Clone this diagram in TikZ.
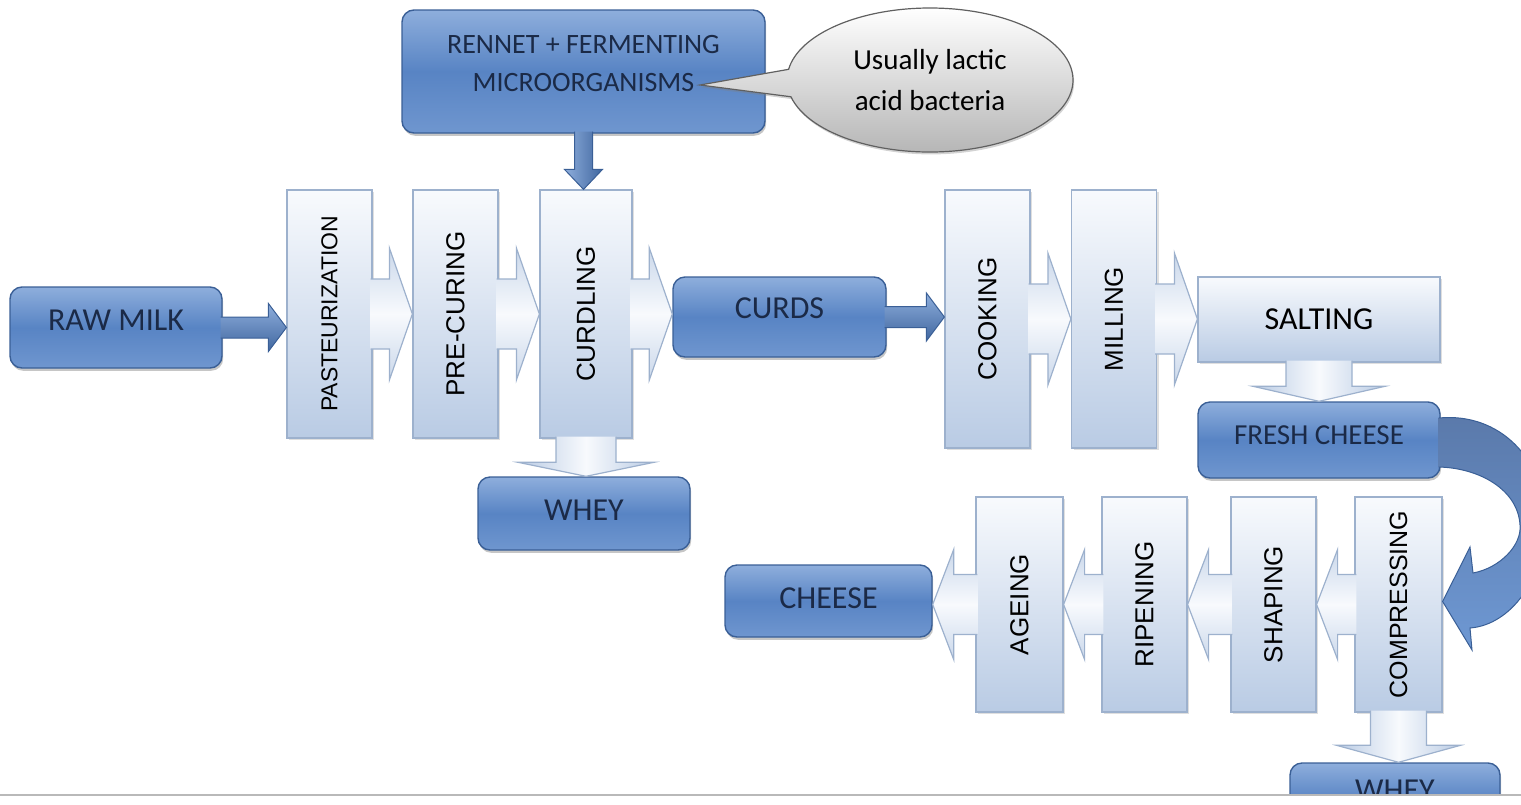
\documentclass[tikz,border=0pt]{standalone}
\usepackage{fontspec}
\setmainfont{Carlito}
\newfontfamily\stepfont{Liberation Sans}
\usepackage{graphicx}
\usetikzlibrary{calc,shapes.callouts,shadows}

\definecolor{darktop}{HTML}{8EAEDC}
\definecolor{darkmid}{HTML}{5884C4}
\definecolor{darkbot}{HTML}{6F96CF}
\definecolor{darkline}{HTML}{3A5F96}
\definecolor{darktext}{HTML}{1B2A47}
\definecolor{steptop}{HTML}{F8FAFD}
\definecolor{stepbot}{HTML}{B9CBE4}
\definecolor{stepline}{HTML}{9DB1CD}
\definecolor{bendtop}{HTML}{5A79AA}
\definecolor{bendbot}{HTML}{6E98D3}

\tikzset{
  darkbox/.style={rectangle, rounded corners=6pt, draw=darkline, line width=0.7pt,
    top color=darktop, bottom color=darkbot, middle color=darkmid, text=darktext,
    font=\fontsize{16}{19}\selectfont, inner sep=0pt,
    drop shadow={shadow xshift=0.6pt, shadow yshift=-1.4pt, opacity=0.45}},
  lift/.style={text depth=#1},
  stepbox/.style={rectangle, draw=stepline, line width=0.6pt,
    top color=steptop, bottom color=stepbot, inner sep=0pt,
    font=\stepfont\fontsize{13}{15}\selectfont,
    minimum width=42.5pt, minimum height=124pt,
    drop shadow={shadow xshift=1pt, shadow yshift=-1pt, opacity=0.25}},
  light/.style={top color=stepbot!75!white, bottom color=stepbot!75!white,
    middle color=steptop},
  light edge/.style={draw=stepline, line width=0.6pt},
  lightv/.style={left color=stepbot, right color=stepbot, middle color=steptop},
  lightv edge/.style={draw=stepline, line width=0.6pt},
  dark/.style={top color=darktop, bottom color=darkline!80!darkmid},
  dark edge/.style={draw=darkline, line width=0.5pt},
  darkv/.style={left color=darktop, right color=darkline!80!darkmid},
  darkv edge/.style={draw=darkline, line width=0.5pt},
  bendflow/.style={top color=bendtop, bottom color=bendbot, draw=darkline, line width=0.5pt},
}

% block arrows: style, from, to, half band, half head, head length
\newcommand{\flowright}[6]{%
  \path[#1, #1 edge] ($(#2.east)+(-2,-#4)$)
    -- ($(#2.east -| #3.west)+(-#6,-#4)$) -- ($(#2.east -| #3.west)+(-#6,-#5)$)
    -- (#2.east -| #3.west)
    -- ($(#2.east -| #3.west)+(-#6,#5)$) -- ($(#2.east -| #3.west)+(-#6,#4)$)
    -- ($(#2.east)+(-2,#4)$);}
\newcommand{\flowleft}[6]{%
  \path[#1, #1 edge] ($(#2.west)+(2,-#4)$)
    -- ($(#2.west -| #3.east)+(#6,-#4)$) -- ($(#2.west -| #3.east)+(#6,-#5)$)
    -- (#2.west -| #3.east)
    -- ($(#2.west -| #3.east)+(#6,#5)$) -- ($(#2.west -| #3.east)+(#6,#4)$)
    -- ($(#2.west)+(2,#4)$);}
\newcommand{\flowdown}[6]{%
  \path[#1, #1 edge] ($(#2.south)+(-#4,-2)$)
    -- ($(#2.south |- #3.north)+(-#4,-#6)$) -- ($(#2.south |- #3.north)+(-#5,-#6)$)
    -- (#2.south |- #3.north)
    -- ($(#2.south |- #3.north)+(#5,-#6)$) -- ($(#2.south |- #3.north)+(#4,-#6)$)
    -- ($(#2.south)+(#4,-2)$);}

\begin{document}
\begin{tikzpicture}[x=0.5pt,y=-0.5pt]
  \useasboundingbox (0,0) rectangle (1521,804);
  \begin{scope}
  \clip (0,0) rectangle (1521,795);

  % upper row
  \node[darkbox, lift=7pt, minimum width=106pt, minimum height=40.5pt] (raw) at (116,327.5) {RAW MILK};
  \node[stepbox, font=\stepfont\fontsize{11.5}{14}\selectfont] (past) at (329.5,314)
    {\rotatebox{90}{PASTEURIZATION}};
  \node[stepbox] (precur) at (455.5,314) {\rotatebox{90}{PRE-CURING}};
  \node[stepbox, minimum width=46pt] (curd) at (586,314) {\rotatebox{90}{CURDLING}};
  \node[darkbox, lift=3pt, minimum width=106pt, minimum height=36.5pt] (whey) at (584,513.5) {WHEY};
  \node[darkbox, lift=8pt, minimum width=181.5pt, minimum height=61.5pt, align=center,
    font=\fontsize{14}{19}\selectfont] (rennet) at (583.5,71.5)
    {RENNET + FERMENTING\\MICROORGANISMS};
  \node[darkbox, lift=9pt, minimum width=106.5pt, minimum height=40pt] (curds) at (779.5,317) {CURDS};
  \node[stepbox, minimum height=129pt] (cook) at (987.5,319) {\rotatebox{90}{COOKING}};
  \node[stepbox, minimum height=129pt] (mill) at (1114,319) {\rotatebox{90}{MILLING}};
  \node[stepbox, minimum width=121pt, minimum height=42.5pt,
    font=\fontsize{16}{19}\selectfont] (salt) at (1319,319.5) {SALTING};
  \node[darkbox, lift=5pt, minimum width=121pt, minimum height=38pt,
    font=\fontsize{14.5}{17}\selectfont] (fresh) at (1319,440) {FRESH CHEESE};

  % lower row
  \node[stepbox, minimum width=43.5pt, minimum height=107.5pt,
    font=\stepfont\fontsize{12.5}{15}\selectfont] (compr) at (1398.5,604.5)
    {\rotatebox{90}{COMPRESSING}};
  \node[stepbox, minimum height=107.5pt] (shape) at (1273.5,604.5) {\rotatebox{90}{SHAPING}};
  \node[stepbox, minimum height=107.5pt] (ripen) at (1144.5,604.5) {\rotatebox{90}{RIPENING}};
  \node[stepbox, minimum width=43.5pt, minimum height=107.5pt] (age) at (1019.5,604.5)
    {\rotatebox{90}{AGEING}};
  \node[darkbox, lift=3pt, minimum width=103.5pt, minimum height=36pt] (cheese) at (828.5,601) {CHEESE};
  \node[darkbox, lift=9pt, minimum width=105pt, minimum height=36.5pt] (wheyb) at (1395,799.5) {WHEY};

  \flowright{dark}{raw}{past}{10.5}{24}{18}
  \flowright{light}{past}{precur}{35}{66}{23}
  \flowright{light}{precur}{curd}{35}{66}{23}
  \flowright{light}{curd}{curds}{35}{66}{23}
  \flowright{dark}{curds}{cook}{10.5}{24}{18}
  \flowright{light}{cook}{mill}{35}{66}{23}
  \flowright{light}{mill}{salt}{35}{66}{23}
  \flowdown{darkv}{rennet}{curd}{9}{19}{20}
  \flowdown{lightv}{curd}{whey}{30}{68}{14}
  \flowdown{lightv}{salt}{fresh}{33}{66}{15}
  \flowdown{lightv}{compr}{wheyb}{28}{62}{17}
  \flowleft{light}{compr}{shape}{30}{55}{21}
  \flowleft{light}{shape}{ripen}{30}{55}{21}
  \flowleft{light}{ripen}{age}{30}{55}{21}
  \flowleft{light}{age}{cheese}{30}{55}{21}

  % fresh cheese round to compressing
  \coordinate (bendA) at ($(fresh.east)+(-2,-22)$);
  \coordinate (bendB) at ($(fresh.east)+(-2,27)$);
  \path[bendflow] (bendA) .. controls (1500,412) and (1545,460) .. (1545,520)
    .. controls (1545,580) and (1510,625) .. (1470,628)
    -- (1472,650) -- ($(compr.east)+(0,-3)$) -- (1470,547) -- (1473,573)
    .. controls (1500,568) and (1522,545) .. (1520,525)
    .. controls (1518,490) and (1480,468) .. (bendB);

  \node[ellipse callout, callout absolute pointer={(700,85)}, callout pointer arc=22,
    minimum width=143pt, minimum height=72pt, draw=gray!75!black, line width=0.6pt,
    top color=white, bottom color=gray!60, align=center,
    font=\fontsize{14.5}{20.5}\selectfont,
    drop shadow={shadow xshift=0.6pt, shadow yshift=-1.2pt, opacity=0.35}]
    (note) at (930,80) {Usually lactic\\acid bacteria};
  \end{scope}

  \draw[gray!55, line width=0.8pt] (0,795) -- (1521,795);
\end{tikzpicture}
\end{document}
